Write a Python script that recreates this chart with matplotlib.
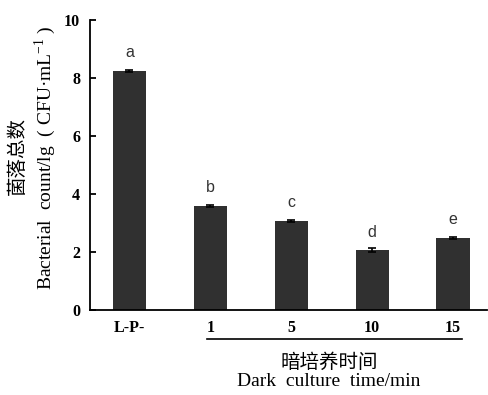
import matplotlib.pyplot as plt
import matplotlib.transforms as mtransforms

labels = ['L-P-', '1', '5', '10', '15']
values = [8.25, 3.60, 3.08, 2.06, 2.49]
errors = [0.04, 0.03, 0.03, 0.07, 0.04]
letters = ['a', 'b', 'c', 'd', 'e']

plt.rcParams['mathtext.fontset'] = 'custom'
plt.rcParams['mathtext.rm'] = 'Liberation Serif'

fig = plt.figure(figsize=(4.88, 3.95), dpi=100)
ax = fig.add_axes([0.184, 0.215, 0.814, 0.734])

x = range(len(labels))
ax.bar(x, values, width=0.41, color='#303030', yerr=errors,
       error_kw=dict(ecolor='black', elinewidth=1.2, capsize=3, capthick=1.2))

for i, (v, t) in enumerate(zip(values, letters)):
    ax.text(i, v + 0.63, t, ha='center', va='center', fontsize=11.5,
            family='Liberation Sans', color='#333333')

ax.set_xlim(-0.49, 4.42)
ax.set_ylim(0, 10)
ax.set_yticks([0, 2, 4, 6, 8, 10])
ax.set_xticks(list(x))
ax.set_xticklabels(labels)
for sp in ['top', 'right']:
    ax.spines[sp].set_visible(False)
ax.spines['left'].set_linewidth(1.3)
ax.spines['bottom'].set_linewidth(1.3)
ax.tick_params(axis='y', direction='in', length=4, width=1.3, pad=7)
ax.tick_params(axis='x', length=0, pad=7)
for lab in ax.get_xticklabels() + ax.get_yticklabels():
    lab.set_fontfamily('Liberation Serif')
    lab.set_fontweight('bold')
    lab.set_fontsize(11.5)

# bracket line under dark-culture groups
trans = mtransforms.blended_transform_factory(ax.transData, ax.transAxes)
ax.plot([0.96, 4.11], [-0.1, -0.1], color='black', lw=1.2,
        transform=trans, clip_on=False)

fig.text(0.674, 0.083, '暗培养时间', ha='center', va='center', fontsize=14,
         family=['Noto Sans CJK SC', 'DejaVu Sans'])
fig.text(0.674, 0.035, 'Dark  culture  time/min', ha='center', va='center',
         fontsize=14, family='Liberation Serif')

fig.text(0.036, 0.605, '菌落总数', rotation=90, ha='center', va='center',
         fontsize=14, family=['Noto Sans CJK SC', 'DejaVu Sans'])
fig.text(0.092, 0.6, 'Bacterial  count/lg  ( CFU·mL$^{-1}$ )', rotation=90,
         ha='center', va='center', fontsize=14, family='Liberation Serif')

fig.savefig('out.png', dpi=100)
